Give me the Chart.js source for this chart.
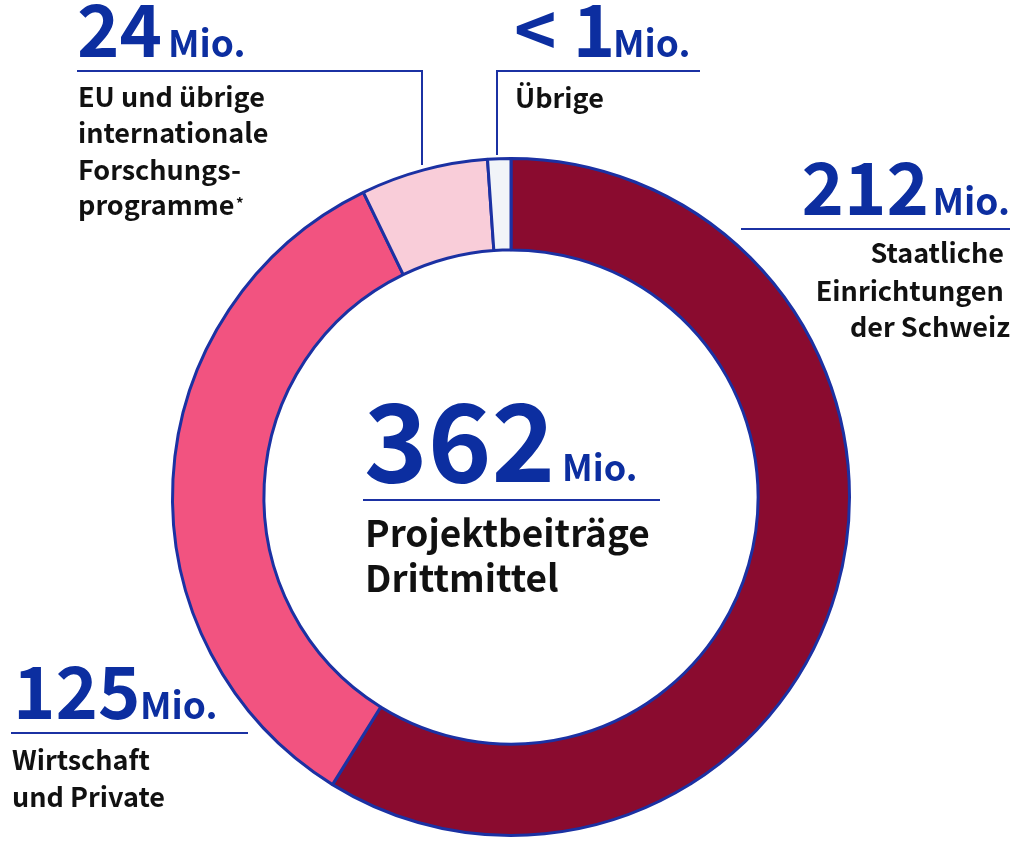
<!DOCTYPE html>
<html>
<head>
<meta charset="utf-8">
<script src="https://cdn.jsdelivr.net/npm/chart.js@4.4.1/dist/chart.umd.min.js"></script>
<style>
  html, body { margin: 0; padding: 0; background: #ffffff; }
  #wrap { position: relative; width: 1014px; height: 841px; overflow: hidden; }
  #chart { position: absolute; left: 0; top: 0; }
  svg { position: absolute; left: 0; top: 0; pointer-events: none; }
  svg text { font-family: "Noto Sans CJK SC", "Noto Sans", sans-serif; font-weight: 700; }
  .blue { fill: #0c2ea0; }
  .black { fill: #111111; }
</style>
</head>
<body>
<div id="wrap">
  <canvas id="chart" width="1014" height="841"></canvas>
  <svg width="1014" height="841" viewBox="0 0 1014 841">
    <g fill="none" stroke="#1b31a3" stroke-width="2">
      <path d="M77 71 H422 V165"/>
      <path d="M497 155 V71 H700"/>
      <path d="M741 229 H1010"/>
      <path d="M11 733 H248"/>
      <path d="M363 500 H660"/>
    </g>
    <text class="blue" x="77" y="57" font-size="72">24</text>
    <text class="blue" x="168" y="57" font-size="37">Mio.</text>
    <text class="black" font-size="27">
      <tspan x="78" y="107">EU und übrige</tspan>
      <tspan x="78" y="143">internationale</tspan>
      <tspan x="78" y="180">Forschungs-</tspan>
      <tspan x="78" y="215">programme</tspan>
    </text>
    <text class="black" x="236" y="209" font-size="15">*</text>

    <text class="blue" x="514" y="57" font-size="72">&lt; 1</text>
    <text class="blue" x="613" y="57" font-size="37">Mio.</text>
    <text class="black" x="515" y="108" font-size="27">Übrige</text>

    <text class="blue" x="929" y="215" font-size="72" text-anchor="end">212</text>
    <text class="blue" x="1010" y="215" font-size="37" text-anchor="end">Mio.</text>
    <text class="black" font-size="27" text-anchor="end">
      <tspan x="1010" y="263">Staatliche</tspan>
      <tspan x="1010" y="301">Einrichtungen</tspan>
      <tspan x="1010" y="337">der Schweiz</tspan>
    </text>

    <text class="blue" x="13" y="719" font-size="72">125</text>
    <text class="blue" x="140" y="719" font-size="37">Mio.</text>
    <text class="black" font-size="27">
      <tspan x="12" y="770">Wirtschaft</tspan>
      <tspan x="12" y="807">und Private</tspan>
    </text>

    <text class="blue" x="364" y="482" font-size="108">362</text>
    <text class="blue" x="562" y="481" font-size="36">Mio.</text>
    <text class="black" font-size="37">
      <tspan x="365" y="547">Projektbeiträge</tspan>
      <tspan x="365" y="592">Drittmittel</tspan>
    </text>
  </svg>
</div>
<script>
// Categories (clockwise from 12 o'clock)
const categories = [
  'Staatliche Einrichtungen der Schweiz',
  'Wirtschaft und Private',
  'EU und übrige internationale Forschungsprogramme',
  'Übrige'
];
// Printed values (Mio. CHF)
const printedValues = ['212', '125', '24', '< 1'];
// Arc sizes as drawn in the picture (Mio.)
const sliceValues = [213, 123, 22, 4];
const sliceColors = ['#8a0b2f', '#f25380', '#f9cdd9', '#f1f4f8'];

new Chart(document.getElementById('chart'), {
  type: 'doughnut',
  data: {
    labels: categories,
    datasets: [{
      data: sliceValues,
      backgroundColor: sliceColors,
      borderColor: '#1b31a3',
      borderWidth: 3,
      hoverOffset: 0
    }]
  },
  options: {
    responsive: false,
    animation: false,
    cutout: '73%',
    rotation: 0,
    layout: { padding: { left: 171, top: 157, right: 163, bottom: 4 } },
    plugins: {
      legend: { display: false },
      tooltip: { enabled: false }
    }
  }
});
</script>
</body>
</html>
